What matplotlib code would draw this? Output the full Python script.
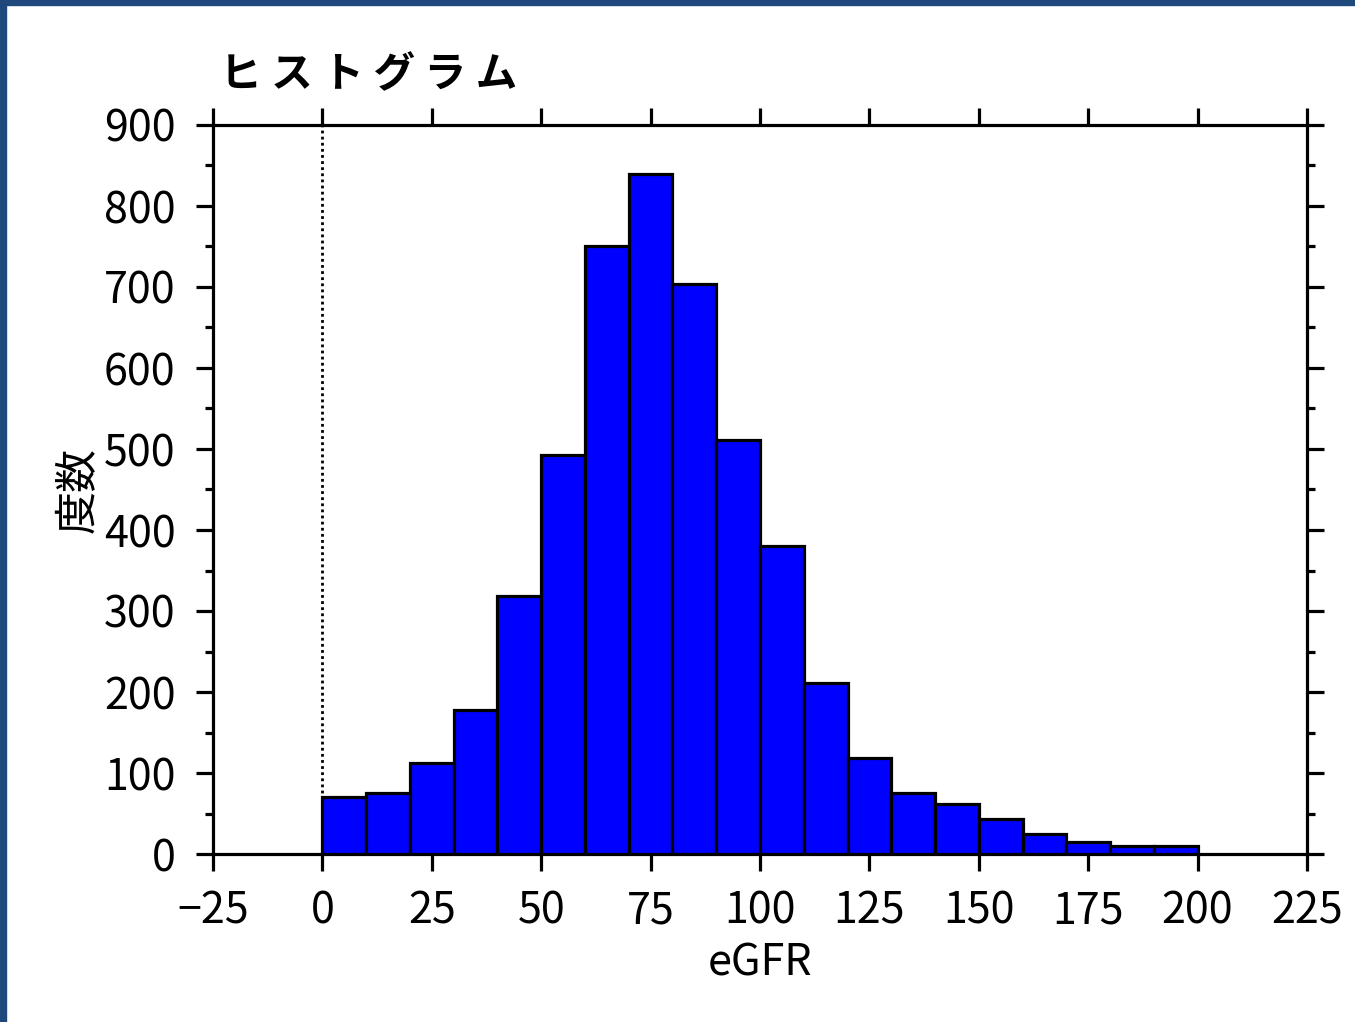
import matplotlib.pyplot as plt
import matplotlib as mpl
from matplotlib.patches import Rectangle
from matplotlib.ticker import MultipleLocator
import numpy as np

mpl.rcParams["font.family"] = ["Noto Sans CJK JP", "DejaVu Sans"]
mpl.rcParams["axes.linewidth"] = 2.3

# eGFR histogram, bins of width 10 from 0 to 200
bin_edges = np.arange(0, 210, 10)
counts = [70, 75, 112, 178, 319, 492, 751, 840, 704, 511,
          380, 211, 118, 75, 62, 43, 25, 15, 10, 10]
x_ticks = [-25, 0, 25, 50, 75, 100, 125, 150, 175, 200, 225]
y_ticks = [0, 100, 200, 300, 400, 500, 600, 700, 800, 900]

fig = plt.figure(figsize=(13.55, 10.22), dpi=100)
ax = fig.add_axes([213 / 1355, 1 - 854 / 1022, 1094 / 1355, 729 / 1022])

ax.bar(bin_edges[:-1], counts, width=np.diff(bin_edges), align="edge",
       color="#0000ff", edgecolor="black", linewidth=2.3, zorder=3)
ax.plot([0, 0], [0, 900], ls=(0, (1, 1.2)), color="black", lw=2, zorder=2)

ax.set_xlim(-25, 225)
ax.set_ylim(0, 900)
ax.set_xticks(x_ticks)
ax.set_xticklabels([f"\u2212{abs(v)}" if v < 0 else str(v) for v in x_ticks])
ax.set_yticks(y_ticks)
ax.yaxis.set_minor_locator(MultipleLocator(50))
ax.tick_params(axis="both", which="major", direction="out", length=12, width=2.3,
               labelsize=31, top=True, right=True)
ax.tick_params(axis="x", which="major", pad=13.5)
ax.tick_params(axis="y", which="major", pad=15)
ax.tick_params(axis="y", which="minor", direction="out", length=6, width=2.3,
               right=True)

ax.set_xlabel("eGFR", fontsize=31, labelpad=6)
ax.set_ylabel("度数", fontsize=31, labelpad=2)
ax.set_title("ヒ ス ト グ ラ ム", loc="left", fontsize=30, fontweight="bold",
             pad=27, x=0.006)

# dark frame along the left and top edges
fig.patches.append(Rectangle((0, 0), 6 / 1355, 1, transform=fig.transFigure,
                             color="#1f497d", zorder=10))
fig.patches.append(Rectangle((0, 1 - 5 / 1022), 1, 5 / 1022, transform=fig.transFigure,
                             color="#1f497d", zorder=10))

fig.savefig("out.png", dpi=100)
